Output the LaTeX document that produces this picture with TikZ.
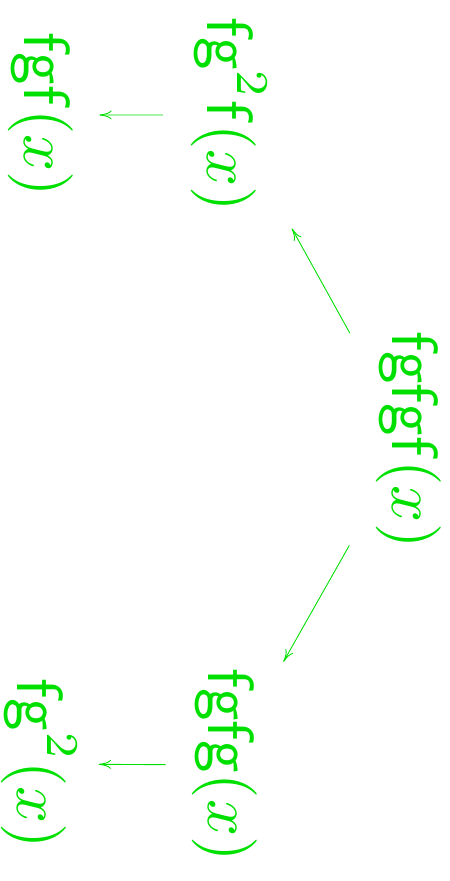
\documentclass[tikz,border=0pt]{standalone}
\usetikzlibrary{arrows.meta}
\definecolor{termgreen}{RGB}{0,224,0}
\tikzset{term/.style={rotate=-90,scale=3.7,transform shape,inner sep=0pt,text=termgreen},
  map/.style={termgreen,line width=0.5pt,-{To[length=7pt,width=5pt]},shorten <=1.05cm,shorten >=1.0cm}}
\begin{document}
\begin{tikzpicture}
\useasboundingbox (0,0) rectangle (8.98,-17.62);
\node[term] (fgfgf) at (8.18,-8.8) {$\mathsf{fgfgf}(x)$};
\node[term] (fgsqf) at (4.58,-2.3) {$\mathsf{fg}^2\mathsf{f}(x)$};
\node[term] (fgf) at (0.81,-2.3) {$\mathsf{fgf}(x)$};
\node[term] (fgfg) at (4.5,-15.3) {$\mathsf{fgfg}(x)$};
\node[term] (fgsq) at (0.78,-15.28) {$\mathsf{fg}^2(x)$};
\draw[map] (fgfgf) -- (fgsqf);
\draw[map] (fgfgf) -- (fgfg);
\draw[map,shorten <=0.55cm,shorten >=0.5cm] (fgsqf) -- (fgf);
\draw[map,shorten <=0.51cm,shorten >=0.42cm] (fgfg) -- (fgsq);
\end{tikzpicture}
\end{document}
